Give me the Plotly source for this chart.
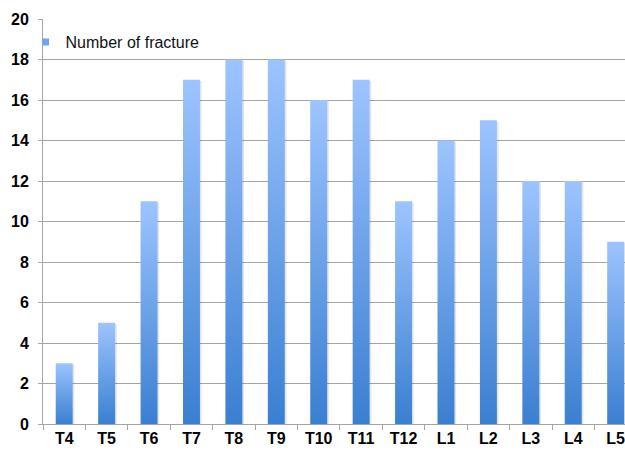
import plotly.graph_objects as go

categories = ["T4", "T5", "T6", "T7", "T8", "T9", "T10", "T11", "T12", "L1", "L2", "L3", "L4", "L5"]
fractures = [3, 5, 11, 17, 18, 18, 16, 17, 11, 14, 15, 12, 12, 9]
series_name = "Number of fracture"
y_ticks = [0, 2, 4, 6, 8, 10, 12, 14, 16, 18, 20]

half = 0.2
dark = "#3a7fd1"
light = "#9dc4ff"
FONT = "Liberation Sans, Arial, sans-serif"

fig = go.Figure()
for i, v in enumerate(fractures):
    # soft shadow
    fig.add_trace(go.Scatter(
        x=[i - half + 0.04, i + half + 0.04, i + half + 0.04, i - half + 0.04, i - half + 0.04],
        y=[-0.06, -0.06, v - 0.06, v - 0.06, -0.06],
        fill="toself", mode="lines", line=dict(width=0),
        fillcolor="rgba(0,0,0,0.10)", showlegend=False, hoverinfo="skip"))
    fig.add_trace(go.Scatter(
        x=[i - half, i + half, i + half, i - half, i - half],
        y=[0, 0, v, v, 0],
        fill="toself", mode="lines", line=dict(width=0),
        fillgradient=dict(type="vertical", colorscale=[[0, dark], [1, light]]),
        showlegend=False, name=series_name, hoverinfo="skip"))

fig.add_trace(go.Scatter(
    x=[None], y=[None], mode="markers", name=series_name,
    marker=dict(symbol="square", size=7, color="#6fa6ee"), showlegend=True))

fig.update_layout(
    width=625, height=450,
    margin=dict(l=43, r=0, t=19, b=26, autoexpand=False),
    paper_bgcolor="white", plot_bgcolor="white",
    font=dict(family=FONT, color="black"),
    showlegend=True,
    legend=dict(x=-0.03, y=0.943, xanchor="left", yanchor="middle",
                bgcolor="rgba(0,0,0,0)", font=dict(size=16, color="#111"),
                itemwidth=30),
    xaxis=dict(
        range=[-0.5, 13.22], automargin=False,
        tickmode="array", tickvals=list(range(len(categories))), ticktext=categories,
        ticks="", showgrid=False, zeroline=False, ticklabeloverflow="allow",
        showline=True, linecolor="#a6a6a6", linewidth=1,
        tickfont=dict(size=16, family=FONT, weight="bold"),
        minor=dict(tick0=0.5, dtick=1, ticks="outside", ticklen=5, tickcolor="#a6a6a6", showgrid=False),
    ),
    yaxis=dict(
        range=[0, 20], tickmode="array", tickvals=y_ticks, automargin=False,
        showgrid=True, gridcolor="#a6a6a6", gridwidth=1, zeroline=False,
        showline=True, linecolor="#a6a6a6", linewidth=1,
        ticks="outside", ticklen=4, tickcolor="#a6a6a6",
        ticklabelstandoff=6,
        tickfont=dict(size=16, family=FONT, weight="bold"),
    ),
)

fig.write_html("out.html", config={"displayModeBar": False},
               post_script="document.body.style.margin='0';document.body.style.overflow='hidden';")
